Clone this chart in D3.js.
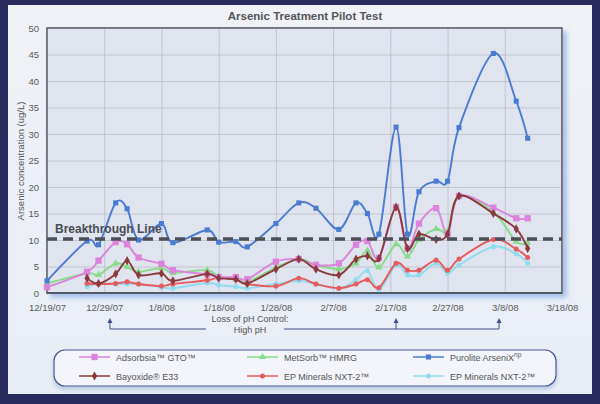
<!DOCTYPE html>
<html><head><meta charset="utf-8">
<script src="https://cdn.jsdelivr.net/npm/d3@7"></script>
<style>html,body{margin:0;padding:0;background:#2a2b5e;}svg{display:block;}</style>
</head><body>
<svg id="c" width="600" height="404"></svg>
<script>
// ---- data ----
const xTickLabels = ["12/19/07","12/29/07","1/8/08","1/18/08","1/28/08","2/7/08","2/17/08","2/27/08","3/8/08","3/18/08"];
const yTicks = [0,5,10,15,20,25,30,35,40,45,50];
const dates = ["12/19/07","12/26/07","12/28/07","12/31/07","1/2/08","1/4/08","1/8/08","1/10/08","1/16/08","1/18/08",
  "1/21/08","1/23/08","1/28/08","2/1/08","2/4/08","2/8/08","2/11/08","2/13/08","2/15/08","2/18/08",
  "2/20/08","2/22/08","2/25/08","2/27/08","2/29/08","3/6/08","3/10/08","3/12/08"];
const adsorbsia = [1.1,4.0,6.1,9.6,9.2,6.7,5.5,4.3,3.5,3.0,3.0,2.6,5.9,6.4,5.3,5.6,9.1,9.8,6.6,16.2,8.4,13.1,16.0,11.1,18.3,16.1,14.1,14.1];
const metsorb   = [1.8,3.7,3.4,5.6,4.9,4.0,4.7,3.8,4.3,3.1,2.6,2.1,4.8,6.4,5.3,4.5,5.6,8.0,4.8,9.2,6.9,10.0,12.1,11.7,18.3,15.3,9.7,9.5];
const purolite  = [2.3,9.8,9.1,17.0,15.9,10.0,13.1,9.5,11.9,9.6,9.7,8.7,13.1,17.0,16.0,12.0,17.0,15.0,11.1,31.3,11.1,19.1,21.1,21.1,31.2,45.2,36.2,29.2];
const bayoxide  = [null,2.8,1.8,3.6,6.1,3.4,3.7,2.3,3.6,2.8,2.6,1.8,4.5,6.4,4.5,3.4,6.4,7.0,6.5,16.2,8.4,11.1,10.1,11.1,18.3,15.0,12.1,8.4];
const epRed     = [null,1.8,1.7,1.8,2.1,1.7,1.3,1.7,2.4,2.9,2.5,1.7,1.3,2.8,1.7,0.9,1.7,2.5,1.0,5.6,4.3,4.3,6.2,4.3,6.4,10.1,8.3,6.7];
const epCyan    = [null,1.2,1.8,1.7,1.7,1.7,1.1,0.9,1.9,1.5,1.2,0.9,1.7,2.3,1.7,0.9,2.5,4.2,0.6,5.3,3.4,3.4,5.6,3.7,5.3,8.7,7.4,5.6];
const breakthrough = 10.2;
const arrowDates = ["12/30/07","2/18/08","3/7/08"];

const series = [
  {name:"EP Minerals NXT-2™", vals:epCyan, color:"#8fdcef", mark:"circle"},
  {name:"EP Minerals NXT-2™", vals:epRed, color:"#e65b5e", mark:"circle"},
  {name:"MetSorb™ HMRG", vals:metsorb, color:"#86dc86", mark:"triangle"},
  {name:"Adsorbsia™ GTO™", vals:adsorbsia, color:"#dc84dc", mark:"square"},
  {name:"Bayoxide® E33", vals:bayoxide, color:"#8c3a3c", mark:"diamond"},
  {name:"Purolite ArseniX", vals:purolite, color:"#4a7bd2", mark:"square"}
];

const parse = d3.timeParse("%m/%d/%y");
const svg = d3.select("#c");
const defs = svg.append("defs");
const sh = defs.append("filter").attr("id","sh").attr("x","-5%").attr("y","-5%").attr("width","115%").attr("height","120%");
sh.append("feDropShadow").attr("dx",4).attr("dy",4).attr("stdDeviation",2.5).attr("flood-color","#8fb2e6").attr("flood-opacity",0.8);
const pg = defs.append("linearGradient").attr("id","pg").attr("x1",0).attr("y1",0).attr("x2",0).attr("y2",1);
pg.append("stop").attr("offset","0%").attr("stop-color","#f0f2f7");
pg.append("stop").attr("offset","100%").attr("stop-color","#e9edf5");

// panel
svg.append("rect").attr("x",8).attr("y",5).attr("width",584).attr("height",389).attr("fill","url(#pg)");

const L=47,R=562,T=28,B=293;
const x = d3.scaleTime().domain([parse("12/19/07"),parse("3/18/08")]).range([L,R]);
const y = d3.scaleLinear().domain([0,50]).range([B,T]);

// plot bg
svg.append("rect").attr("x",L).attr("y",T).attr("width",R-L).attr("height",B-T)
  .attr("fill","#dfe4ef").attr("stroke","#5a5e6a").attr("stroke-width",1.2).attr("filter","url(#sh)");

// grid
const tickDates = xTickLabels.map(parse);
svg.append("g").attr("transform",`translate(0,${B})`)
  .call(d3.axisBottom(x).tickValues(tickDates).tickSize(-(B-T)).tickFormat(""))
  .call(g=>{g.select(".domain").remove();g.selectAll("line").attr("stroke","#b8bcc7").attr("stroke-width",0.8);});
svg.append("g").attr("transform",`translate(${L},0)`)
  .call(d3.axisLeft(y).tickValues(yTicks).tickSize(-(R-L)).tickFormat(""))
  .call(g=>{g.select(".domain").remove();g.selectAll("line").attr("stroke","#b8bcc7").attr("stroke-width",0.8);});
svg.append("rect").attr("x",L).attr("y",T).attr("width",R-L).attr("height",B-T)
  .attr("fill","none").attr("stroke","#5a5e6a").attr("stroke-width",1.2);
svg.append("line").attr("x1",L).attr("x2",R).attr("y1",B).attr("y2",B).attr("stroke","#4a4e5a").attr("stroke-width",1.5);

// tick labels
const font = "Liberation Sans, Arial, sans-serif";
svg.append("g").attr("transform",`translate(0,${B})`)
  .call(d3.axisBottom(x).tickValues(tickDates).tickSize(0).tickPadding(11).tickFormat((d,i)=>xTickLabels[i]))
  .call(g=>{g.select(".domain").remove();g.selectAll("text").attr("fill","#5a5a5a").attr("font-size","9.5px").attr("font-family",font);});
svg.append("g").attr("transform",`translate(${L},0)`)
  .call(d3.axisLeft(y).tickValues(yTicks).tickSize(0).tickPadding(8))
  .call(g=>{g.select(".domain").remove();g.selectAll("text").attr("fill","#5a5a5a").attr("font-size","9.5px").attr("font-family",font);});

// titles
svg.append("text").attr("x",305).attr("y",20).attr("text-anchor","middle").attr("font-family",font)
  .attr("font-weight","bold").attr("font-size","11.5px").attr("fill","#555").text("Arsenic Treatment Pilot Test");
svg.append("text").attr("transform","translate(24,161) rotate(-90)").attr("text-anchor","middle").attr("font-family",font)
  .attr("font-size","9.5px").attr("fill","#555").text("Arsenic concentration (ug/L)");

// series
const symbolOf = m => m==="square"?d3.symbolSquare:m==="triangle"?d3.symbolTriangle:m==="diamond"?d3.symbolDiamond:d3.symbolCircle;
const sizeOf = (s)=> s.mark==="square"?(s.vals===adsorbsia?40:26):s.mark==="triangle"?22:s.mark==="diamond"?24:20;
const dDates = dates.map(parse);
series.forEach(s=>{
  const pts = s.vals.map((v,i)=>({d:dDates[i],v})).filter(p=>p.v!=null);
  const line = d3.line().x(p=>x(p.d)).y(p=>y(p.v)).curve(d3.curveCardinal.tension(0));
  svg.append("path").attr("d",line(pts)).attr("fill","none").attr("stroke",s.color).attr("stroke-width",1.9);
  svg.append("g").selectAll("path").data(pts).join("path")
    .attr("transform",p=>`translate(${x(p.d)},${y(p.v)})`)
    .attr("d",d3.symbol().type(symbolOf(s.mark)).size(sizeOf(s))).attr("fill",s.color);
});

// breakthrough line
svg.append("line").attr("x1",L).attr("x2",R).attr("y1",y(breakthrough)).attr("y2",y(breakthrough))
  .attr("stroke","#4d4f57").attr("stroke-width",3.5).attr("stroke-dasharray","10,6");
svg.append("text").attr("x",55).attr("y",y(breakthrough)-6).attr("font-family",font).attr("font-weight","bold")
  .attr("font-size","12px").attr("fill","#4a4c55").text("Breakthrough Line");

// annotation arrows
const ac = "#3f4d8c";
const ay = 329, atop = 318;
const ax = arrowDates.map(d=>x(parse(d)));
const ann = svg.append("g").attr("stroke",ac).attr("stroke-width",1).attr("fill","none");
ann.append("polyline").attr("points",`${ax[0]},${atop+3} ${ax[0]},${ay} 206,${ay}`);
ann.append("polyline").attr("points",`284,${ay} ${ax[2]},${ay} ${ax[2]},${atop+3}`);
ann.append("line").attr("x1",ax[1]).attr("x2",ax[1]).attr("y1",ay).attr("y2",atop+3);
ax.forEach(a=>svg.append("path").attr("d",`M${a-2.5},${atop+5}L${a},${atop}L${a+2.5},${atop+5}Z`).attr("fill",ac));
svg.append("text").attr("x",250).attr("y",322).attr("text-anchor","middle").attr("font-family",font)
  .attr("font-size","9px").attr("fill","#555").text("Loss of pH Control:");
svg.append("text").attr("x",250).attr("y",333).attr("text-anchor","middle").attr("font-family",font)
  .attr("font-size","9px").attr("fill","#555").text("High pH");

// legend
const lf = defs.append("filter").attr("id","lsh").attr("x","-5%").attr("y","-20%").attr("width","110%").attr("height","150%");
lf.append("feDropShadow").attr("dx",0).attr("dy",3).attr("stdDeviation",2).attr("flood-color","#9fb8e0").attr("flood-opacity",0.7);
svg.append("rect").attr("x",54).attr("y",350).attr("width",502).attr("height",36).attr("rx",11)
  .attr("fill","#f3f5fa").attr("stroke","#4a5590").attr("stroke-width",1.2).attr("filter","url(#lsh)");
const legendItems = [
  {s:series[3], lx:79, ly:357, label:"Adsorbsia™ GTO™"},
  {s:series[2], lx:247, ly:357, label:"MetSorb™ HMRG"},
  {s:series[5], lx:413, ly:357, label:"Purolite ArseniX", sup:"np"},
  {s:series[4], lx:79, ly:376, label:"Bayoxide® E33"},
  {s:series[1], lx:247, ly:376, label:"EP Minerals NXT-2™"},
  {s:series[0], lx:413, ly:376, label:"EP Minerals NXT-2™"}
];
legendItems.forEach(it=>{
  svg.append("line").attr("x1",it.lx).attr("x2",it.lx+31).attr("y1",it.ly).attr("y2",it.ly).attr("stroke",it.s.color).attr("stroke-width",1.5);
  svg.append("path").attr("transform",`translate(${it.lx+15.5},${it.ly})`)
    .attr("d",d3.symbol().type(symbolOf(it.s.mark)).size(sizeOf(it.s))).attr("fill",it.s.color);
  const t = svg.append("text").attr("x",it.lx+37).attr("y",it.ly+3.5).attr("font-family",font)
    .attr("font-size","9px").attr("fill","#555").text(it.label);
  if(it.sup) t.append("tspan").attr("dy",-3.5).attr("font-size","6.5px").text(it.sup);
});
</script>
</body></html>
